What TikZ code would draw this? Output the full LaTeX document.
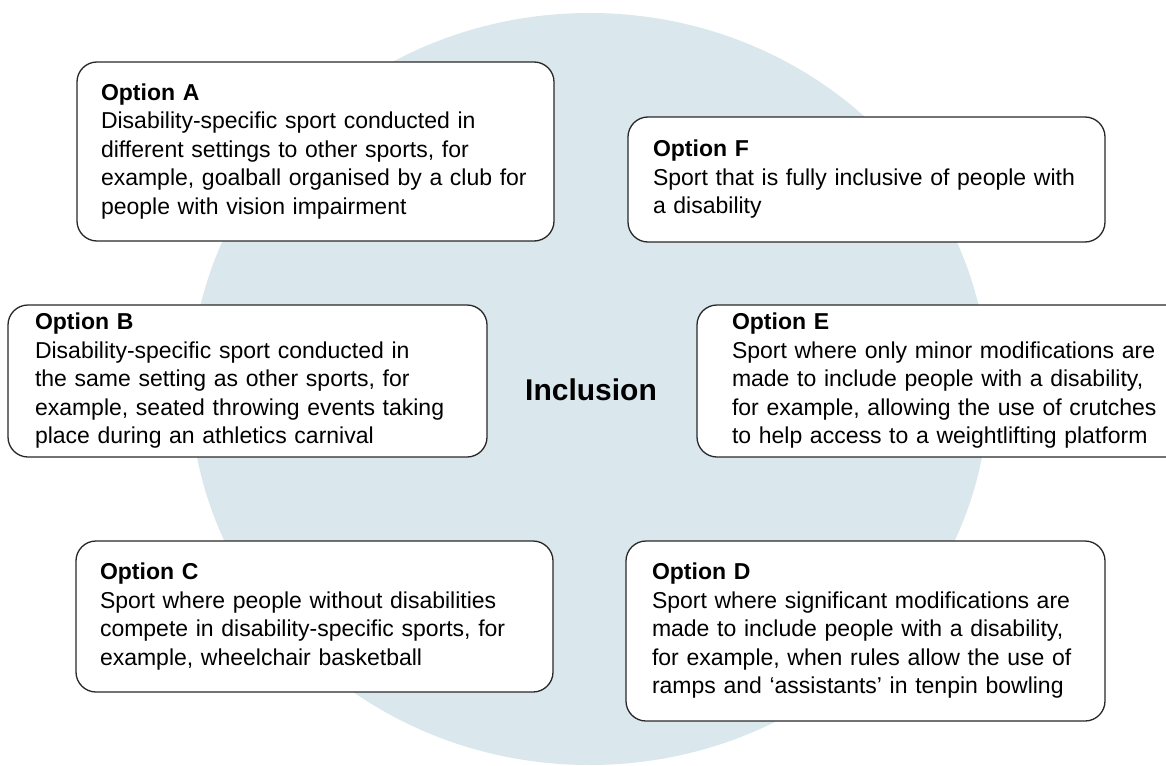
\documentclass[tikz,border=0pt]{standalone}
\usepackage{fontspec}
\setmainfont{Liberation Sans}
\definecolor{inclblue}{RGB}{218,232,238}
\definecolor{boxline}{RGB}{40,40,40}

\begin{document}
\begin{tikzpicture}[x=1pt, y=-1pt,
    optbox/.style={draw=boxline, line width=1.3pt, fill=white, rounded corners=20pt,
        align=left, minimum height=#1, inner ysep=0pt, font=\fontsize{23}{28.5}\selectfont}]

        \useasboundingbox (0,0) rectangle (1166,765);
        \fill[inclblue] (589.5,389) ellipse [x radius=399, y radius=376];

        \node[font=\fontsize{30}{36}\selectfont\bfseries] (incl) at (591,390) {Inclusion};

        \node[optbox=179pt, text width=429pt, inner xsep=24pt] (optA) at (315.5,151.5) {\textbf{Option A}\\ Disability-specific sport conducted in\\ different settings to other sports, for\\ example, goalball organised by a club for\\ people with vision impairment};

        \node[optbox=125pt, text width=427pt, inner xsep=25pt] (optF) at (866.5,179.5) {\textbf{Option F}\\ Sport that is fully inclusive of people with\\ a disability};

        \node[optbox=152pt, text width=425pt, inner xsep=27pt] (optB) at (247.5,381) {\textbf{Option B}\\ Disability-specific sport conducted in\\ the same setting as other sports, for\\ example, seated throwing events taking\\ place during an athletics carnival};

        % runs off the right edge of the page
        \node[optbox=152pt, text width=470pt, inner xsep=35pt] (optE) at (967,381) {\textbf{Option E}\\ Sport where only minor modifications are\\ made to include people with a disability,\\ for example, allowing the use of crutches\\ to help access to a weightlifting platform};

        \node[optbox=151pt, text width=429pt, inner xsep=24pt] (optC) at (314.5,616.5) {\textbf{Option C}\\ Sport where people without disabilities\\ compete in disability-specific sports, for\\ example, wheelchair basketball};

        \node[optbox=180pt, text width=427pt, inner xsep=26pt] (optD) at (865.5,631) {\textbf{Option D}\\ Sport where significant modifications are\\ made to include people with a disability,\\ for example, when rules allow the use of\\ ramps and ‘assistants’ in tenpin bowling};
\end{tikzpicture}
\end{document}
